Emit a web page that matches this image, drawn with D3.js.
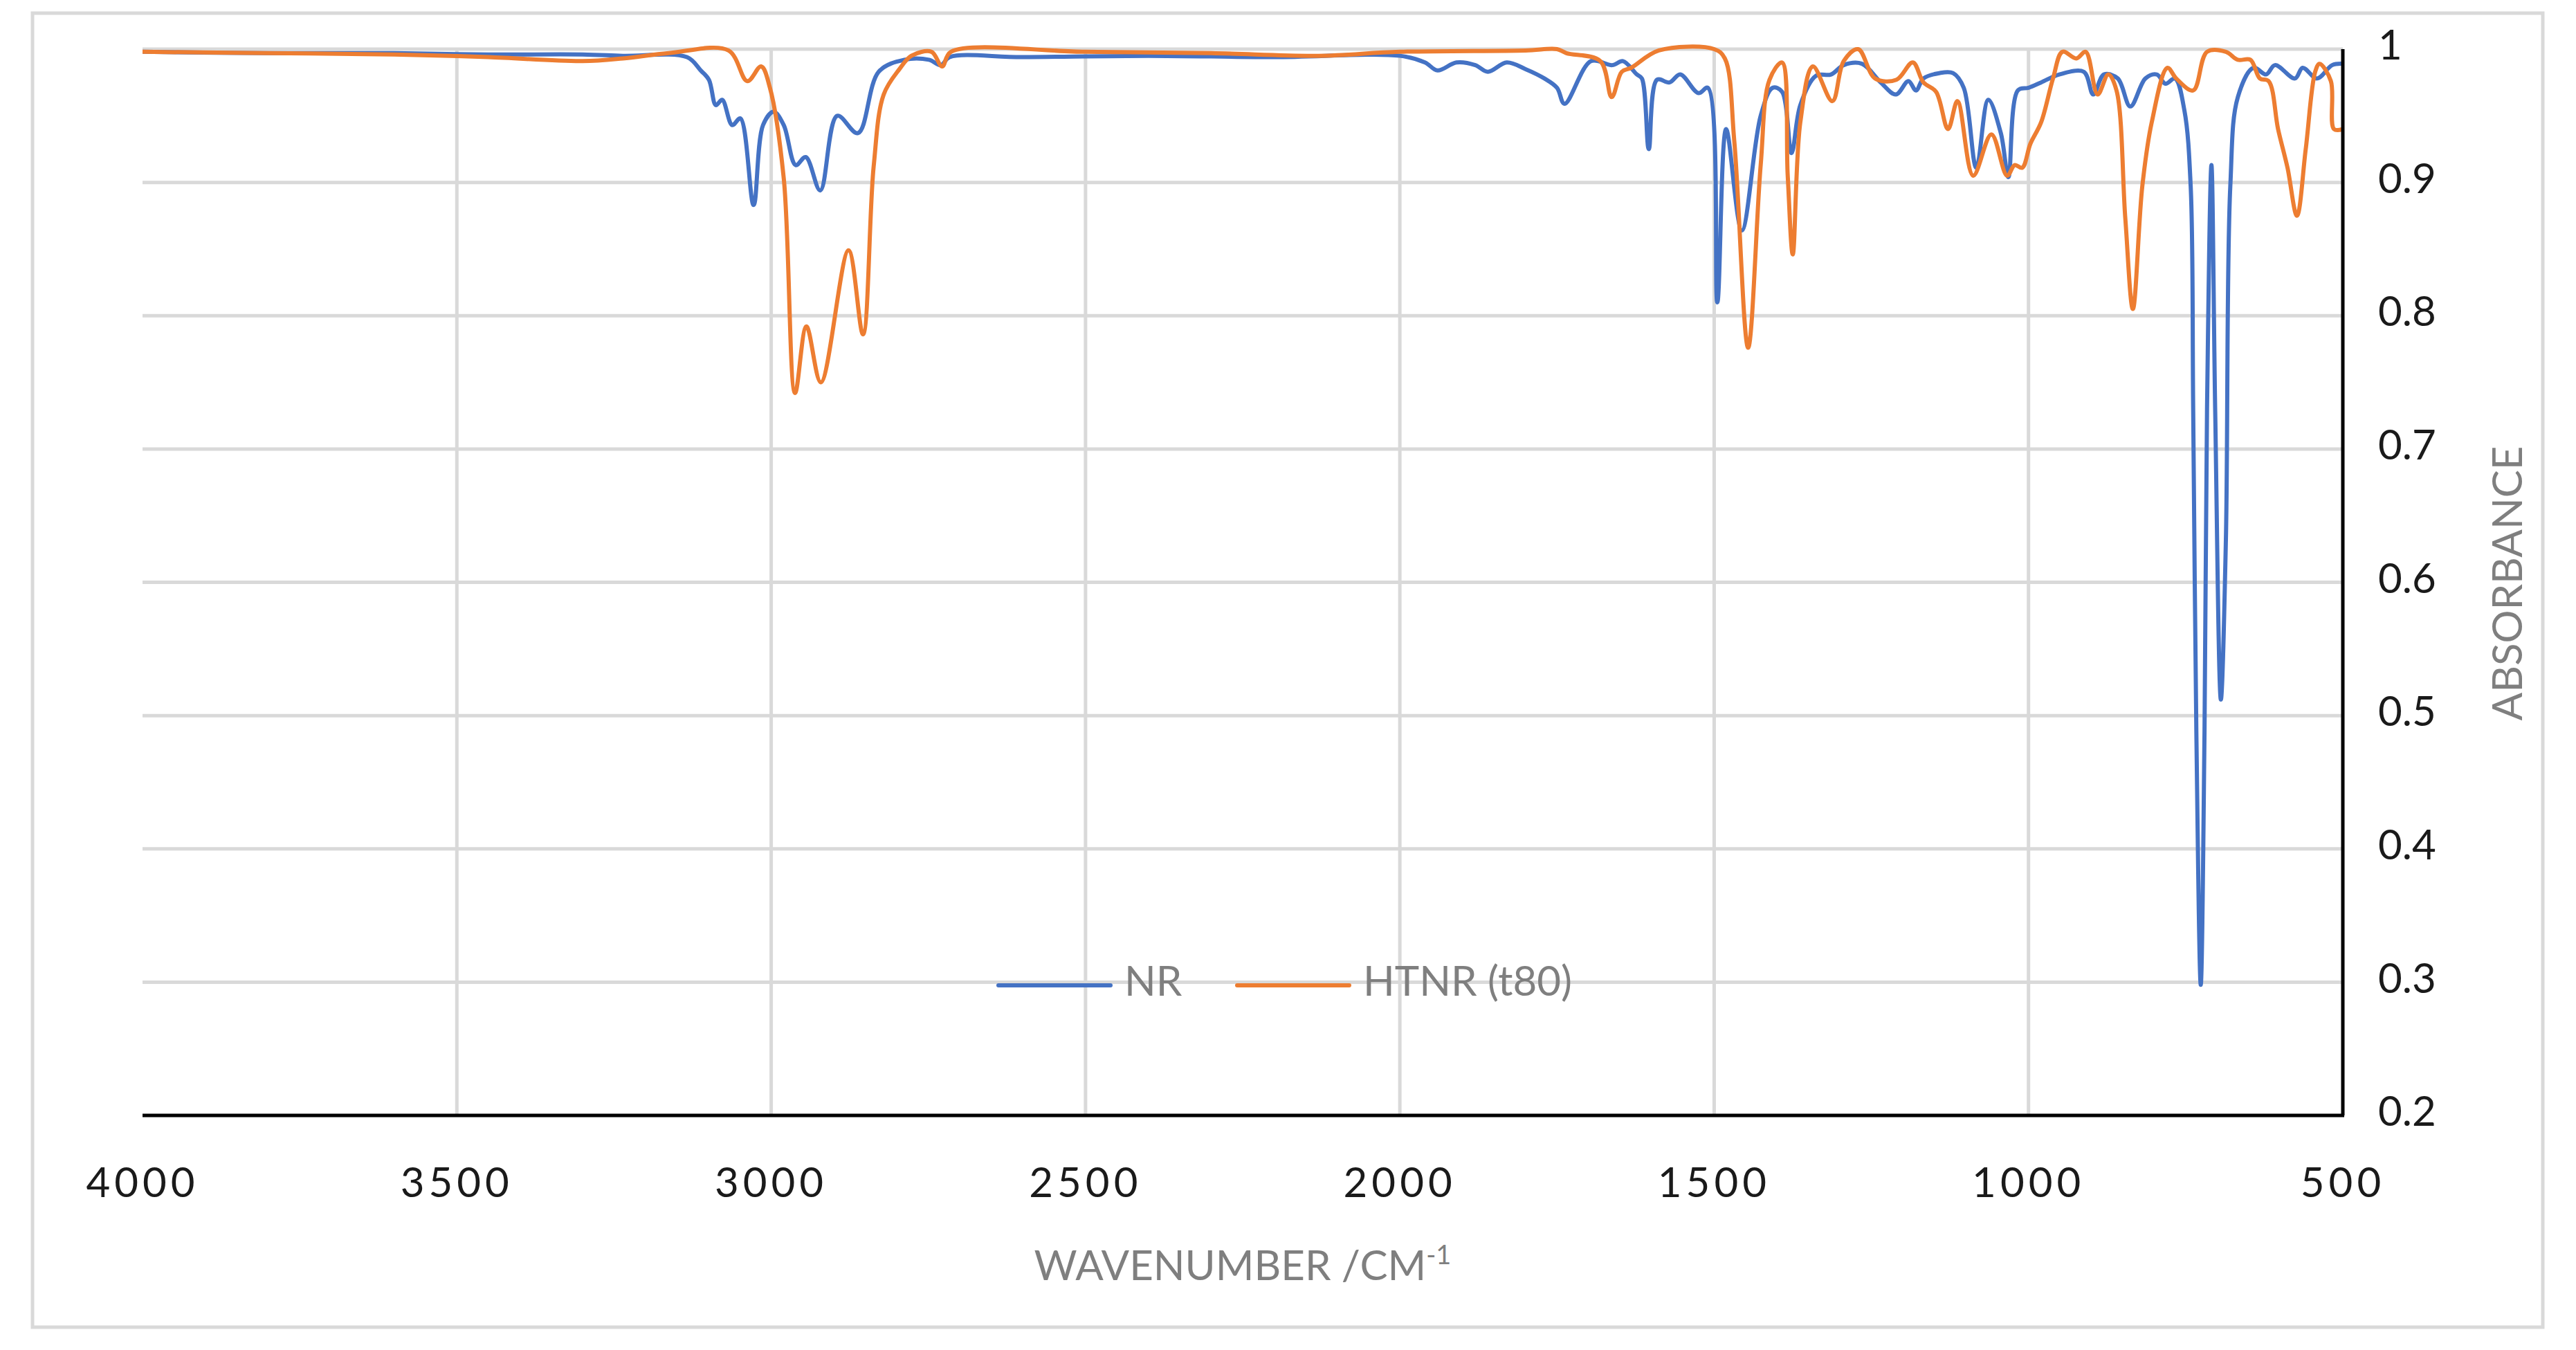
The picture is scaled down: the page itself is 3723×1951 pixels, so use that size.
<!DOCTYPE html>
<html>
<head>
<meta charset="utf-8">
<script src="https://cdn.jsdelivr.net/npm/d3@7"></script>
<style>
  body { margin: 0; background: #fff; }
  text { font-family: Lato, "Open Sans", sans-serif; }
</style>
</head>
<body>
<script>
const width = 3723;
const height = 1951;

// wavenumber (cm-1), absorbance
const nrWave = [4000, 3800, 3600, 3450, 3300, 3236, 3134, 3112, 3099, 3088, 3078, 3062, 3049, 3028, 3013, 2996, 2980, 2961, 2945, 2922, 2895, 2862, 2829, 2788, 2749, 2730, 2716, 2600, 2400, 2200, 2000, 1960, 1940, 1910, 1880, 1860, 1830, 1800, 1770, 1750, 1738, 1696, 1662, 1645, 1623, 1615, 1604, 1591, 1571, 1554, 1525, 1510, 1495, 1481, 1456, 1426, 1407, 1392, 1377, 1363, 1338, 1314, 1294, 1265, 1235, 1211, 1191, 1179, 1167, 1142, 1120, 1103, 1083, 1064, 1044, 1032, 1017, 1000, 980, 951, 912, 897, 880, 858, 838, 814, 796, 782, 767, 752, 742, 738, 733, 726, 720, 716, 709, 703, 694, 686, 679, 667, 642, 622, 608, 576, 564, 541, 517, 500];
const nrAbs  = [0.998, 0.997, 0.997, 0.996, 0.996, 0.995, 0.994, 0.984, 0.977, 0.958, 0.962, 0.943, 0.948, 0.883, 0.943, 0.953, 0.943, 0.913, 0.919, 0.894, 0.950, 0.937, 0.983, 0.992, 0.992, 0.988, 0.994, 0.994, 0.995, 0.994, 0.995, 0.990, 0.984, 0.990, 0.988, 0.983, 0.990, 0.985, 0.978, 0.971, 0.959, 0.991, 0.988, 0.991, 0.981, 0.978, 0.925, 0.977, 0.975, 0.981, 0.967, 0.971, 0.810, 0.940, 0.864, 0.950, 0.971, 0.968, 0.922, 0.958, 0.980, 0.981, 0.988, 0.989, 0.975, 0.966, 0.976, 0.969, 0.978, 0.982, 0.982, 0.971, 0.911, 0.962, 0.937, 0.904, 0.969, 0.971, 0.975, 0.981, 0.983, 0.966, 0.981, 0.978, 0.957, 0.978, 0.981, 0.974, 0.978, 0.954, 0.897, 0.728, 0.488, 0.298, 0.488, 0.730, 0.913, 0.728, 0.512, 0.632, 0.897, 0.964, 0.986, 0.981, 0.988, 0.978, 0.986, 0.978, 0.988, 0.989];

const htWave = [4000, 3800, 3600, 3450, 3300, 3236, 3163, 3068, 3038, 3016, 3002, 2980, 2962, 2944, 2921, 2877, 2854, 2837, 2821, 2796, 2777, 2745, 2728, 2714, 2500, 2300, 2130, 2000, 1800, 1750, 1735, 1681, 1663, 1647, 1632, 1588, 1500, 1483, 1468, 1446, 1426, 1412, 1392, 1383, 1375, 1363, 1343, 1312, 1294, 1271, 1244, 1210, 1184, 1167, 1147, 1128, 1113, 1088, 1059, 1034, 1022, 1010, 997, 980, 961, 946, 924, 909, 890, 873, 860, 846, 834, 819, 804, 779, 765, 738, 716, 686, 667, 647, 632, 618, 603, 588, 573, 559, 544, 537, 519, 514, 500];
const htAbs  = [0.998, 0.997, 0.996, 0.994, 0.991, 0.993, 0.997, 0.999, 0.976, 0.987, 0.971, 0.903, 0.742, 0.792, 0.750, 0.849, 0.786, 0.912, 0.966, 0.985, 0.995, 0.998, 0.987, 0.998, 0.998, 0.997, 0.995, 0.998, 0.999, 1.0, 0.997, 0.991, 0.964, 0.983, 0.986, 0.999, 1.0, 0.993, 0.931, 0.776, 0.913, 0.977, 0.990, 0.905, 0.846, 0.945, 0.987, 0.961, 0.991, 1.0, 0.978, 0.977, 0.990, 0.975, 0.968, 0.940, 0.961, 0.905, 0.936, 0.905, 0.913, 0.911, 0.929, 0.945, 0.978, 0.998, 0.993, 0.998, 0.966, 0.981, 0.969, 0.873, 0.805, 0.897, 0.945, 0.986, 0.978, 0.969, 0.998, 0.998, 0.992, 0.992, 0.978, 0.976, 0.940, 0.911, 0.875, 0.925, 0.983, 0.989, 0.976, 0.940, 0.940];

const xTicks = [4000, 3500, 3000, 2500, 2000, 1500, 1000, 500];
const yTicks = [1, 0.9, 0.8, 0.7, 0.6, 0.5, 0.4, 0.3, 0.2];

const margin = { left: 206, right: 3386, top: 71, bottom: 1612 };

const svg = d3.select("body").append("svg")
    .attr("width", width)
    .attr("height", height);

svg.append("rect")
    .attr("x", 47).attr("y", 19)
    .attr("width", 3628).attr("height", 1899)
    .attr("fill", "#fff")
    .attr("stroke", "#d9d9d9")
    .attr("stroke-width", 5);

const x = d3.scaleLinear().domain([4000, 500]).range([margin.left, margin.right]);
const y = d3.scaleLinear().domain([0.2, 1]).range([margin.bottom, margin.top]);

// gridlines
svg.append("g").selectAll("line").data(xTicks.slice(1, -1)).join("line")
    .attr("x1", d => x(d)).attr("x2", d => x(d))
    .attr("y1", margin.top).attr("y2", margin.bottom)
    .attr("stroke", "#d9d9d9").attr("stroke-width", 5);
svg.append("g").selectAll("line").data(yTicks.slice(0, -1)).join("line")
    .attr("x1", margin.left).attr("x2", margin.right)
    .attr("y1", d => y(d)).attr("y2", d => y(d))
    .attr("stroke", "#d9d9d9").attr("stroke-width", 5);

// series
const line = d3.line()
    .x(d => x(d[0]))
    .y(d => y(d[1]))
    .curve(d3.curveCatmullRom.alpha(0.5));

const series = [
    { name: "NR", color: "#4472c4", pts: d3.zip(nrWave, nrAbs) },
    { name: "HTNR (t80)", color: "#ed7d31", pts: d3.zip(htWave, htAbs) }
];

series.forEach(s => {
    svg.append("path")
        .attr("d", line(s.pts))
        .attr("fill", "none")
        .attr("stroke", s.color)
        .attr("stroke-width", 6)
        .attr("stroke-linejoin", "round");
});

// axes lines
svg.append("line")
    .attr("x1", margin.left).attr("x2", margin.right + 2)
    .attr("y1", margin.bottom).attr("y2", margin.bottom)
    .attr("stroke", "#000").attr("stroke-width", 5);
svg.append("line")
    .attr("x1", margin.right).attr("x2", margin.right)
    .attr("y1", margin.top).attr("y2", margin.bottom)
    .attr("stroke", "#000").attr("stroke-width", 5);

// tick labels
svg.append("g").selectAll("text").data(xTicks).join("text")
    .attr("x", d => x(d))
    .attr("y", 1730)
    .attr("text-anchor", "middle")
    .attr("font-size", 60)
    .attr("letter-spacing", 6)
    .attr("fill", "#1a1a1a")
    .text(d => d);

svg.append("g").selectAll("text").data(yTicks).join("text")
    .attr("x", 3437)
    .attr("y", d => y(d))
    .attr("dominant-baseline", "middle")
    .attr("font-size", 60)
    .attr("fill", "#1a1a1a")
    .text(d => d);

// axis titles
const xt = svg.append("text")
    .attr("x", 1796).attr("y", 1850)
    .attr("text-anchor", "middle")
    .attr("font-size", 60)
    .attr("fill", "#7f7f7f")
    .text("WAVENUMBER /CM");
xt.append("tspan").attr("baseline-shift", "super").attr("font-size", 38).text("-1");

svg.append("text")
    .attr("transform", "translate(3645, 843) rotate(-90)")
    .attr("text-anchor", "middle")
    .attr("font-size", 60)
    .attr("fill", "#7f7f7f")
    .text("ABSORBANCE");

// legend
const legendX = [1443, 1788];
series.forEach((s, i) => {
    svg.append("line")
        .attr("x1", legendX[i]).attr("x2", legendX[i] + 162)
        .attr("y1", 1424).attr("y2", 1424)
        .attr("stroke", s.color).attr("stroke-width", 6)
        .attr("stroke-linecap", "round");
    svg.append("text")
        .attr("x", legendX[i] + 182).attr("y", 1424)
        .attr("dominant-baseline", "middle")
        .attr("font-size", 60)
        .attr("fill", "#7f7f7f")
        .text(s.name);
});
</script>
</body>
</html>
